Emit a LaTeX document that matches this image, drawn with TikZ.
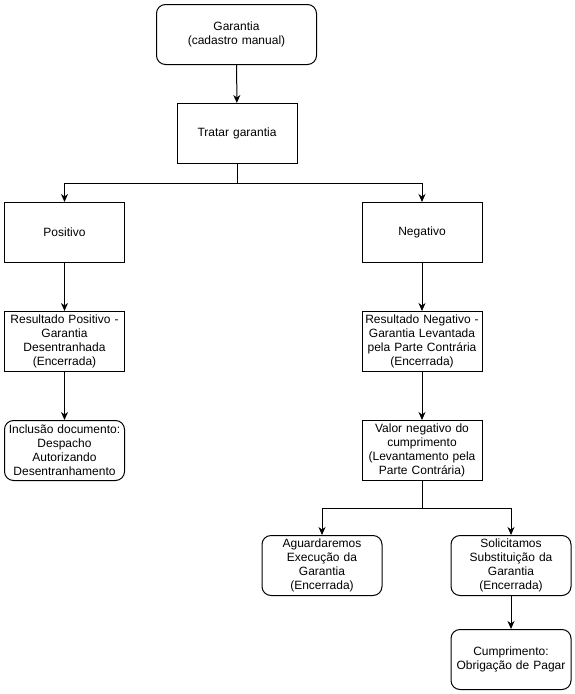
\documentclass[tikz,border=0pt]{standalone}
\usepackage{fontspec}
\setmainfont{Liberation Sans}
\usetikzlibrary{arrows.meta}
\begin{document}
\begin{tikzpicture}[x=1pt,y=-1pt,
 box/.style={draw, line width=1pt, minimum width=120pt, minimum height=60pt, align=center, inner sep=1pt, text width=118pt, font=\fontsize{12}{14}\selectfont},
 rbox/.style={box, rounded corners=9pt},
 arr/.style={-{Stealth[length=8pt,width=7pt,inset=2.5pt]}, line width=1pt}]
\useasboundingbox (0,0) rectangle (575,694);
\node[rbox, minimum width=160pt, text width=158pt] (G) at (236.5,34.5) {Garantia\\(cadastro manual)};
\node[box] (T) at (237,133.5) {Tratar garantia};
\node[box] (P) at (64.5,232.5) {Positivo};
\node[box] (N) at (422,232.5) {Negativo};
\node[box] (RP) at (64.5,341.5) {Resultado Positivo -\\Garantia\\Desentranhada\\(Encerrada)};
\node[box] (RN) at (422,341.5) {Resultado Negativo -\\Garantia Levantada\\pela Parte Contrária\\(Encerrada)};
\node[rbox] (I) at (64.5,450.5) {Inclusão documento:\\Despacho\\Autorizando\\Desentranhamento};
\node[box] (V) at (422,450.5) {Valor negativo do\\cumprimento\\(Levantamento pela\\Parte Contrária)};
\node[rbox] (A) at (322,565.5) {Aguardaremos\\Execução da\\Garantia\\(Encerrada)};
\node[rbox] (S) at (511,565.5) {Solicitamos\\Substituição da\\Garantia\\(Encerrada)};
\node[rbox] (C) at (511,659.5) {Cumprimento:\\Obrigação de Pagar};
\coordinate (tb) at (237,183);
\coordinate (vb) at (422,508);
\draw[arr] (G) -- (T);
\draw[arr] (T.south) -- (T.south |- tb) -| (P.north);
\draw[arr] (T.south |- tb) -| (N.north);
\draw[arr] (P) -- (RP);
\draw[arr] (RP) -- (I);
\draw[arr] (N) -- (RN);
\draw[arr] (RN) -- (V);
\draw[arr] (V.south) -- (V.south |- vb) -| (A.north);
\draw[arr] (V.south |- vb) -| (S.north);
\draw[arr] (S) -- (C);
\end{tikzpicture}
\end{document}
